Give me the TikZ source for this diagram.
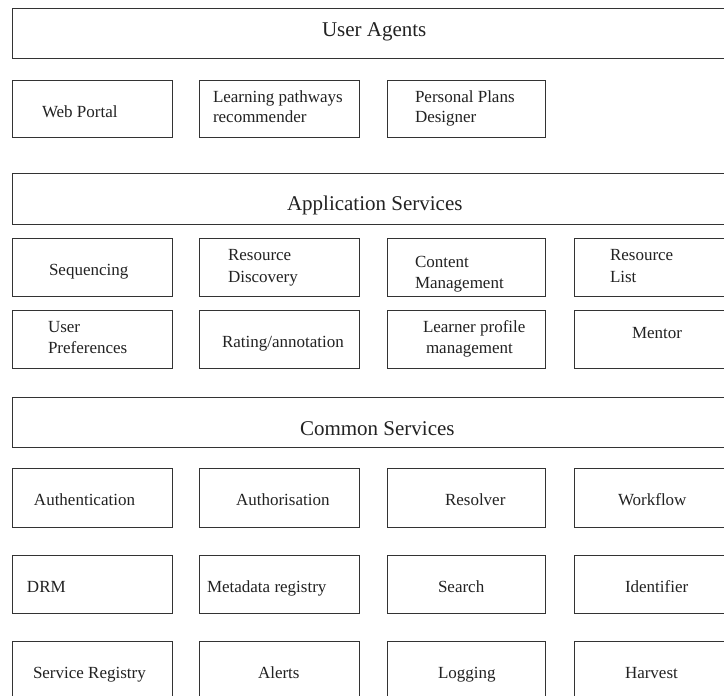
\documentclass[tikz,border=0pt]{standalone}
\usepackage{fontspec}
\setmainfont{Liberation Serif}
\definecolor{linegray}{HTML}{333333}
\definecolor{textgray}{HTML}{222222}
\tikzset{
  box/.style={draw=linegray, line width=0.8pt, inner sep=0pt, outer sep=0pt, rectangle},
  txt/.style={inner sep=0pt, outer sep=0pt, text=textgray, font=\fontsize{17}{21}\selectfont, anchor=base west},
  bigtxt/.style={inner sep=0pt, outer sep=0pt, text=textgray, font=\fontsize{21}{25}\selectfont, anchor=base west}
}
\newcommand\mybox[5]{\node[box, minimum width={#4-#2}, minimum height={#5-#3}] (#1) at ({(#2+#4)/2},{(#3+#5)/2}) {};}
\begin{document}
\begin{tikzpicture}[x=1pt,y=-1pt]
\useasboundingbox (0,0) rectangle (724,696);
\clip (0,0) rectangle (724,696);
\fill[white] (0,0) rectangle (724,696);
% User Agents
\mybox{ua}{12}{8}{745}{58}
\node[bigtxt] (ua-t) at (322,37) {User Agents};
\mybox{web}{12}{80}{172}{137}
\node[txt] (web-t) at (42,117) {Web Portal};
\mybox{lpr}{199}{80}{359}{137}
\node[txt] (lpr-t1) at (213,102) {Learning pathways};
\node[txt] (lpr-t2) at (213,122) {recommender};
\mybox{ppd}{387}{80}{545}{137}
\node[txt] (ppd-t1) at (415,102) {Personal Plans};
\node[txt] (ppd-t2) at (415,122) {Designer};
% Application Services
\mybox{as}{12}{173}{745}{224}
\node[bigtxt] (as-t) at (287,210) {Application Services};
\mybox{seq}{12}{238}{172}{296}
\node[txt] (seq-t) at (49,275) {Sequencing};
\mybox{rd}{199}{238}{359}{296}
\node[txt] (rd-t1) at (228,260) {Resource};
\node[txt] (rd-t2) at (228,282) {Discovery};
\mybox{cm}{387}{238}{545}{296}
\node[txt] (cm-t1) at (415,267) {Content};
\node[txt] (cm-t2) at (415,288) {Management};
\mybox{rl}{574}{238}{745}{296}
\node[txt] (rl-t1) at (610,260) {Resource};
\node[txt] (rl-t2) at (610,282) {List};
\mybox{up}{12}{310}{172}{368}
\node[txt] (up-t1) at (48,332) {User};
\node[txt] (up-t2) at (48,353) {Preferences};
\mybox{ra}{199}{310}{359}{368}
\node[txt] (ra-t) at (222,347) {Rating/annotation};
\mybox{lpm}{387}{310}{545}{368}
\node[txt] (lpm-t1) at (423,332) {Learner profile};
\node[txt] (lpm-t2) at (426,353) {management};
\mybox{men}{574}{310}{745}{368}
\node[txt] (men-t) at (632,338) {Mentor};
% Common Services
\mybox{cs}{12}{397}{745}{447}
\node[bigtxt] (cs-t) at (300,435) {Common Services};
\mybox{authn}{12}{468}{172}{527}
\node[txt] (authn-t) at (34,505) {Authentication};
\mybox{authz}{199}{468}{359}{527}
\node[txt] (authz-t) at (236,505) {Authorisation};
\mybox{res}{387}{468}{545}{527}
\node[txt] (res-t) at (445,505) {Resolver};
\mybox{wf}{574}{468}{745}{527}
\node[txt] (wf-t) at (618,505) {Workflow};
\mybox{drm}{12}{555}{172}{613}
\node[txt] (drm-t) at (27,592) {DRM};
\mybox{meta}{199}{555}{359}{613}
\node[txt] (meta-t) at (207,592) {Metadata registry};
\mybox{srch}{387}{555}{545}{613}
\node[txt] (srch-t) at (438,592) {Search};
\mybox{ident}{574}{555}{745}{613}
\node[txt] (ident-t) at (625,592) {Identifier};
\mybox{sreg}{12}{641}{172}{715}
\node[txt] (sreg-t) at (33,678) {Service Registry};
\mybox{alrt}{199}{641}{359}{715}
\node[txt] (alrt-t) at (258,678) {Alerts};
\mybox{log}{387}{641}{545}{715}
\node[txt] (log-t) at (438,678) {Logging};
\mybox{harv}{574}{641}{745}{715}
\node[txt] (harv-t) at (625,678) {Harvest};
\end{tikzpicture}
\end{document}
